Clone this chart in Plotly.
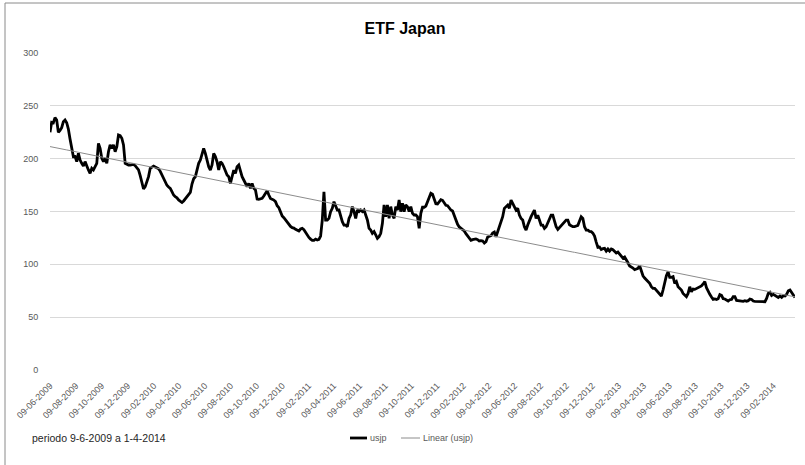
import numpy as np
import pandas as pd
import plotly.graph_objects as go

# Daily-close series of the usjp ETF, sampled evenly between the first and last date
start_date = "2009-06-09"
end_date = "2014-04-01"

usjp = [
    225, 234.4, 234, 238.8, 236.6, 225, 226.8, 229.3, 235, 236.6,
    234, 228, 218.6, 211.4, 201.9, 202, 197.2, 205, 198.7, 195.6,
    193, 197.2, 192.4, 189.3, 186.1, 190.9, 189.3, 192.4, 195.6, 214.5,
    209.8, 200.3, 197.2, 200.3, 195.6, 206.6, 213, 209.8, 213, 206.6,
    211.4, 222.4, 221.8, 219.3, 213, 195.6, 194.6, 194, 194, 194,
    194.6, 193.4, 191.5, 189.3, 184, 177.6, 171.3, 173.5, 178.2, 183,
    190.9, 192.4, 193, 192.1, 191.2, 190.5, 188, 184.9, 181.1, 177.3,
    174.8, 173.2, 171.9, 168.8, 165.6, 164, 163, 161, 159.5, 158.5,
    160, 162, 164, 165.5, 168, 176, 181,
    182.9, 190.8, 195.6, 198.7, 203.4, 209.7, 205, 197.1, 192.4, 189.2,
    194, 205, 201.9, 197.1, 189.2, 197.1, 195.6, 192.4, 187.7, 184.5,
    182.9, 176.6, 182.9, 189.2, 186.1, 192.4, 194, 187.7, 182.9, 179.8,
    176.6, 173.5, 176.6, 171.9, 176.6, 171.9, 170.3, 161.8, 161.5, 161.8,
    162.4, 164.6, 167.8, 169.7, 165.6, 162.4, 161.5, 160.8, 159.3, 155.5,
    153.6, 149.5, 145.7, 144.1, 141.9, 139.7, 138.1, 135.9, 134.7, 134.3,
    133.1, 132.5, 131.5, 133.4, 134, 132.8, 130.2, 127.7, 125.5, 123.9,
    122.7, 122.7, 123.9, 123, 123.6, 126.8, 141.9, 168.7, 141.9, 141.9,
    143.5, 149.8, 153, 159.3, 156.1, 151.4, 151.4, 145.1, 140.3, 137.2,
    137.2, 135.7, 143.5, 146.7, 154.6, 149.9, 143.5, 151.4, 149.9, 151.4,
    149.9, 151.4, 146.7, 142, 134.1, 132.5, 129.4, 131, 127.8, 124.6,
    126.2, 129.4, 138.8, 156.2, 145.1, 156.2, 143.5, 154.6, 146.7, 143.5,
    154.6, 151.4, 160.9, 149.9, 157.8, 149.9, 156.2, 154.6, 149.9, 154.6,
    148.3, 146.7, 146.7, 145.1, 134.1, 148.3, 154, 154, 155.2, 159.6,
    163.1, 167.2, 166.3, 161.2, 157.4, 157.1, 158.7, 161.2, 160.6, 158.4,
    155.9, 155.5, 153.3, 151.4, 150.5, 146.1, 140.7, 137.9, 135.4, 134.1,
    133.1, 131.6, 129, 126.8, 125.3, 122.7, 123.4, 123.7, 124, 123.4,
    122.1, 122.4, 122.1, 120.2, 121.5, 125.9, 126.8, 127.1, 129.7, 130.6,
    126.1, 130.9, 134, 140.3, 145.1, 153, 154.5, 156.1, 153, 160.8,
    157.7, 154.5, 151.4, 153, 146.6, 143.5, 141.9, 135.6, 132.4, 137.2,
    141.9, 145.1, 148.2, 151.4, 143.5, 146.6, 141.9, 137.2, 137.2, 134,
    135.6, 138.8, 143.5, 146.6, 146.6, 140.3, 135.6, 133.1, 134.7, 136.2,
    137.8, 139.4, 141.9, 141.9, 137.5, 136.5, 135.6, 135.6, 136.5, 136.9,
    141, 145.1, 143.5, 135.6, 132.4, 132.4, 131.2, 130.9, 129.6, 126.8,
    121.1, 116, 116.4, 114.1, 114.8, 115.1, 112.6, 114.5, 112.6, 114.5,
    113.8, 112.3, 110.7, 111.6, 109.4, 107.5, 105.9, 106.9, 104.7, 101.5,
    98.4, 97.7, 96.5, 94.9, 95.8, 96.2, 98.7, 93.6, 89.2, 87,
    85.1, 83.6, 82, 78.8, 77.3, 77.3, 75.7, 74.1, 72.5, 70,
    75.7, 83.6, 89.2, 93, 87.7, 87.7, 88.3, 82, 83.6, 78.8,
    77.3, 75.7, 72.5, 70.9, 69.4, 72.5, 78.8, 74.1, 76.6, 76.3,
    77.3, 78.2, 78.8, 79.5, 81.4, 83.6, 77.9, 73.8, 71.6, 69.1,
    66.8, 67.2, 66.8, 67.5, 71.3, 70.6, 67.5, 67.2, 66.5, 65.3,
    66.5, 66.8, 69.4, 69.4, 65.9, 65.6, 65.3, 65.6, 65, 65.6,
    65, 65.6, 67.2, 66.8, 65.3, 65, 65, 64.6, 64.6, 64.6,
    64.6, 64.6, 67.8, 72.5, 73.5, 70.6, 71.6, 70.6, 70.3, 68.7,
    70, 68.7, 70.3, 70, 71.6, 75, 75.7, 73.5, 71.9, 68.7,
]

y_ticks = [0, 50, 100, 150, 200, 250, 300]
tick_dates = pd.date_range("2009-06-09", "2014-02-09", freq=pd.DateOffset(months=2))
tick_labels = [d.strftime("%d-%m-%Y") for d in tick_dates]

dates = pd.date_range(start_date, end_date, periods=len(usjp))

# Least-squares linear trend of the series against time
days = np.asarray((dates - dates[0]).days, dtype=float)
slope, intercept = np.polyfit(days, np.asarray(usjp, dtype=float), 1)
trend = intercept + slope * days

FONT = "Liberation Sans, Arial, sans-serif"
TICK_COLOR = "#595959"
GRID_COLOR = "#d9d9d9"
TREND_COLOR = "#8c8c8c"

W, H = 805, 465
ML, MR, MT, MB = 50, 10, 53, 95
PW, PH = W - ML - MR, H - MT - MB
LEGEND_Y = 438


def px(x):
    return (x - ML) / PW


def py(y):
    return (H - MB - y) / PH


fig = go.Figure()
fig.add_trace(go.Scatter(
    x=dates, y=usjp, mode="lines", name="usjp",
    line=dict(color="black", width=2.8), showlegend=False,
))
fig.add_trace(go.Scatter(
    x=dates, y=trend, mode="lines", name="Linear (usjp)",
    line=dict(color=TREND_COLOR, width=1), showlegend=False,
))

fig.update_layout(
    width=W, height=H,
    margin=dict(l=ML, r=MR, t=MT, b=MB),
    paper_bgcolor="white", plot_bgcolor="white",
    font=dict(family=FONT, color=TICK_COLOR, size=9),
    title=dict(
        text="<b>ETF Japan</b>", x=405 / W, xanchor="center",
        y=1 - 28 / H, yanchor="middle", yref="container",
        font=dict(family=FONT, size=16, color="black"),
    ),
    xaxis=dict(
        type="date",
        range=[pd.Timestamp(start_date), pd.Timestamp(end_date)],
        tickmode="array", tickvals=tick_dates, ticktext=tick_labels,
        tickangle=-45, ticks="outside", ticklen=6, tickcolor="rgba(0,0,0,0)",
        showgrid=False, zeroline=False, showline=False,
        tickfont=dict(family=FONT, size=9, color=TICK_COLOR),
    ),
    yaxis=dict(
        range=[0, 300], tickmode="array", tickvals=y_ticks,
        showgrid=True, gridcolor=GRID_COLOR, gridwidth=1,
        zeroline=False, showline=False,
        ticks="outside", ticklen=9, tickcolor="rgba(0,0,0,0)",
        tickfont=dict(family=FONT, size=9, color=TICK_COLOR),
    ),
)

shapes = [
    # chart-area frame (left and top edges)
    dict(type="line", xref="paper", yref="paper", x0=px(5), x1=px(5), y0=py(3), y1=py(H),
         line=dict(color="#8a8a8a", width=1)),
    dict(type="line", xref="paper", yref="paper", x0=px(5), x1=px(W), y0=py(3), y1=py(3),
         line=dict(color="#8a8a8a", width=1)),
    # legend keys
    dict(type="line", xref="paper", yref="paper", x0=px(350), x1=px(367), y0=py(LEGEND_Y), y1=py(LEGEND_Y),
         line=dict(color="black", width=2.8)),
    dict(type="line", xref="paper", yref="paper", x0=px(401), x1=px(420), y0=py(LEGEND_Y), y1=py(LEGEND_Y),
         line=dict(color=TREND_COLOR, width=1)),
]
fig.update_layout(shapes=shapes)

annotations = [
    dict(text="usjp", xref="paper", yref="paper", x=px(368), y=py(LEGEND_Y),
         xanchor="left", yanchor="middle", showarrow=False,
         font=dict(family=FONT, size=9, color=TICK_COLOR)),
    dict(text="Linear (usjp)", xref="paper", yref="paper", x=px(421), y=py(LEGEND_Y),
         xanchor="left", yanchor="middle", showarrow=False,
         font=dict(family=FONT, size=9, color=TICK_COLOR)),
    dict(text="periodo 9-6-2009 a 1-4-2014", xref="paper", yref="paper", x=px(30), y=py(LEGEND_Y),
         xanchor="left", yanchor="middle", showarrow=False,
         font=dict(family=FONT, size=10.5, color="#262626")),
]
fig.update_layout(annotations=annotations)

fig.write_html("out.html")
